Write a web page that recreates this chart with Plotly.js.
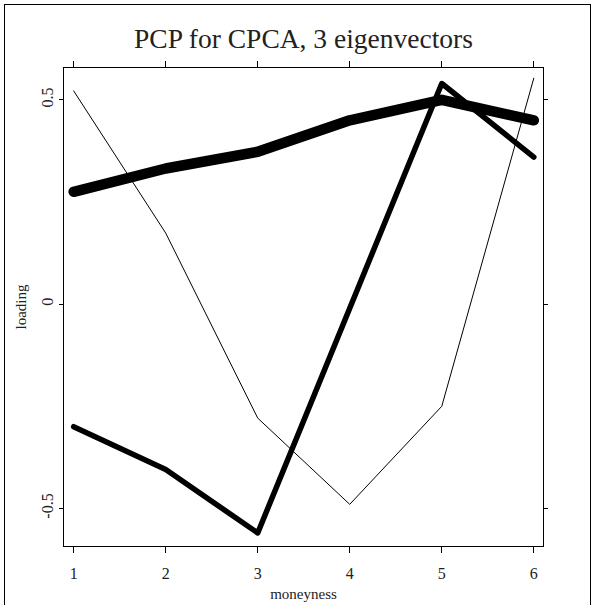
<!DOCTYPE html>
<html>
<head>
<meta charset="utf-8">
<script src="https://cdn.plot.ly/plotly-3.0.1.min.js"></script>
<style>
html,body{margin:0;padding:0;background:#fff;}
#frame{position:absolute;left:4px;top:4px;width:587px;height:620px;border:1px solid #000;box-sizing:border-box;pointer-events:none;z-index:5;}
#chart{position:absolute;left:0;top:0;width:594px;height:605px;}
</style>
</head>
<body>
<div id="chart"></div>
<div id="frame"></div>
<script>
const moneyness = [1, 2, 3, 4, 5, 6];
const eigenvector1 = [0.275, 0.332, 0.373, 0.450, 0.500, 0.450];
const eigenvector2 = [-0.300, -0.405, -0.560, -0.010, 0.540, 0.360];
const eigenvector3 = [0.522, 0.174, -0.279, -0.490, -0.250, 0.553];
const xTicks = [1, 2, 3, 4, 5, 6];
const yTicks = [-0.5, 0, 0.5];
const yTickText = ['-0.5', '0', '0.5'];

const serif = '"Liberation Serif", "Times New Roman", Times, serif';
const traces = [
  {x: moneyness, y: eigenvector3, mode: 'lines', line: {color: '#000', width: 1}},
  {x: moneyness, y: eigenvector2, mode: 'lines', line: {color: '#000', width: 5.5}},
  {x: moneyness, y: eigenvector1, mode: 'lines', line: {color: '#000', width: 10.5}}
];
const layout = {
  width: 594, height: 605,
  margin: {l: 64, r: 51, t: 68, b: 59, pad: 0},
  paper_bgcolor: '#fff', plot_bgcolor: '#fff',
  showlegend: false,
  font: {family: serif},
  title: {text: 'PCP for CPCA, 3 eigenvectors', font: {family: serif, size: 27.5, color: '#222'}, xref: 'paper', x: 0.5, xanchor: 'center', y: 0.937, yanchor: 'middle'},
  xaxis: {
    range: [0.895, 6.10], tickvals: xTicks, ticktext: xTicks.map(String),
    ticks: 'outside', ticklen: 6, tickwidth: 1, tickcolor: '#000',
    showline: true, linecolor: '#000', linewidth: 1, mirror: 'ticks',
    showgrid: false, zeroline: false,
    tickfont: {family: serif, size: 16, color: '#222'},
    ticklabelstandoff: 7,
    title: {text: 'moneyness', font: {family: serif, size: 15, color: '#222'}, standoff: 7}
  },
  yaxis: {
    range: [-0.592, 0.578], tickvals: yTicks, ticktext: yTickText,
    ticks: 'outside', ticklen: 4, tickwidth: 1, tickcolor: '#000',
    showline: true, linecolor: '#000', linewidth: 1, mirror: 'ticks',
    showgrid: false, zeroline: false, tickangle: -90,
    tickfont: {family: serif, size: 16, color: '#222'},
    ticklabelstandoff: 0,
    title: {text: 'loading', font: {family: serif, size: 15, color: '#222'}, standoff: 8}
  }
};
Plotly.newPlot('chart', traces, layout, {displayModeBar: false, staticPlot: true}).then(function(){
  document.querySelectorAll('.scatterlayer path.js-line').forEach(function(p){
    p.style.strokeLinecap = 'round';
    p.style.strokeLinejoin = 'round';
  });
  document.querySelectorAll('.main-svg text').forEach(function(t){
    t.style.fontFamily = '"Liberation Serif", serif';
  });
});
</script>
</body>
</html>
